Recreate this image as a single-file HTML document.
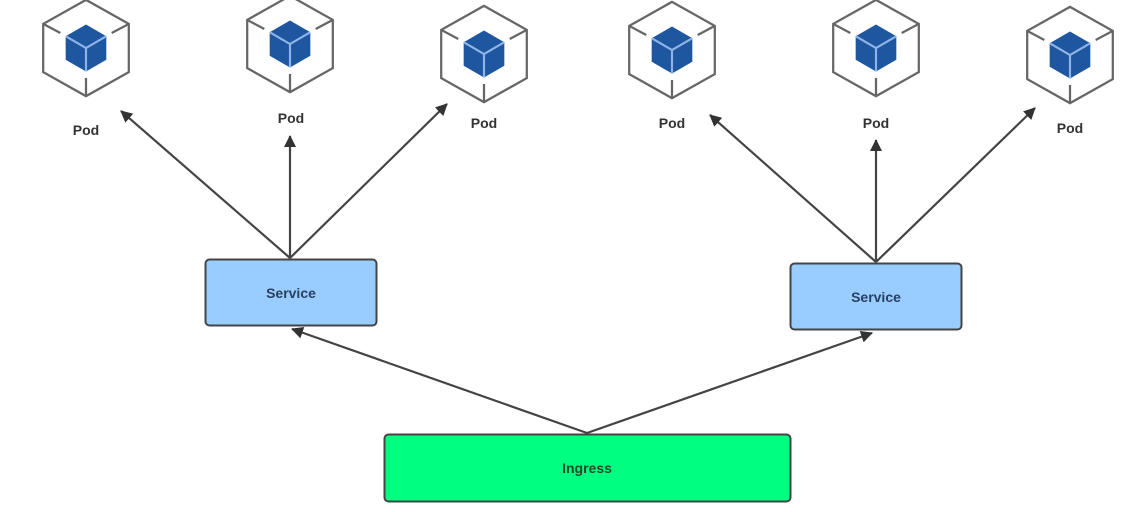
<!DOCTYPE html>
<html><head><meta charset="utf-8"><style>
html,body{margin:0;padding:0;background:#fff;width:1144px;height:512px;overflow:hidden}
text{font-family:"Liberation Sans",sans-serif;font-weight:bold}
</style></head><body>
<svg width="1144" height="512" viewBox="0 0 1144 512">
<defs>
<g id="pod" transform="scale(1.07)">
<polygon points="0,-45 40,-22.5 40,22.5 0,45 -40,22.5 -40,-22.5" fill="#fff" stroke="#666" stroke-width="2.1"/>
<line x1="-40" y1="-22.5" x2="-24" y2="-14" stroke="#666" stroke-width="2.1"/>
<line x1="40" y1="-22.5" x2="24" y2="-14" stroke="#666" stroke-width="2.1"/>
<line x1="0" y1="45" x2="0" y2="28" stroke="#666" stroke-width="2.1"/>
<polygon points="0,-22 19,-11 19,11 0,22 -19,11 -19,-11" fill="#1e56a0"/>
<polyline points="-19,-11 0,0 19,-11" fill="none" stroke="#8fb5e8" stroke-width="2"/>
<line x1="0" y1="0" x2="0" y2="22" stroke="#8fb5e8" stroke-width="2"/>
</g>
<marker id="ah" markerWidth="12" markerHeight="12" refX="11" refY="6" orient="auto" markerUnits="userSpaceOnUse" viewBox="0 0 12 12">
<path d="M0,0 L12,6 L0,12 z" fill="#333"/>
</marker>
</defs>
<g stroke="#444" stroke-width="2.2">
<line x1="290" y1="258" x2="121" y2="111" marker-end="url(#ah)"/>
<line x1="290" y1="258" x2="290" y2="136" marker-end="url(#ah)"/>
<line x1="290" y1="258" x2="447" y2="104" marker-end="url(#ah)"/>
<line x1="876" y1="262" x2="710" y2="115" marker-end="url(#ah)"/>
<line x1="876" y1="262" x2="876" y2="140" marker-end="url(#ah)"/>
<line x1="876" y1="262" x2="1035" y2="108" marker-end="url(#ah)"/>
<line x1="587" y1="433" x2="292" y2="329" marker-end="url(#ah)"/>
<line x1="587" y1="433" x2="872" y2="333" marker-end="url(#ah)"/>
</g>
<use href="#pod" x="86" y="48"/>
<use href="#pod" x="290" y="44"/>
<use href="#pod" x="484" y="54"/>
<use href="#pod" x="672" y="50"/>
<use href="#pod" x="876" y="48"/>
<use href="#pod" x="1070" y="55"/>
<g font-size="14" fill="#333" text-anchor="middle">
<text x="86" y="135">Pod</text>
<text x="291" y="123">Pod</text>
<text x="484" y="128">Pod</text>
<text x="672" y="128">Pod</text>
<text x="876" y="128">Pod</text>
<text x="1070" y="133">Pod</text>
</g>
<rect x="205.5" y="259.5" width="171" height="66" rx="4" fill="#99ccff" stroke="#444" stroke-width="2"/>
<text x="291" y="298" font-size="14" fill="#2a4060" text-anchor="middle">Service</text>
<rect x="790.5" y="263.5" width="171" height="66" rx="4" fill="#99ccff" stroke="#444" stroke-width="2"/>
<text x="876" y="302" font-size="14" fill="#2a4060" text-anchor="middle">Service</text>
<rect x="384.5" y="434.5" width="406" height="67" rx="4" fill="#00ff80" stroke="#444" stroke-width="2"/>
<text x="587" y="473" font-size="14" fill="#1a4a2a" text-anchor="middle">Ingress</text>
</svg>
</body></html>
